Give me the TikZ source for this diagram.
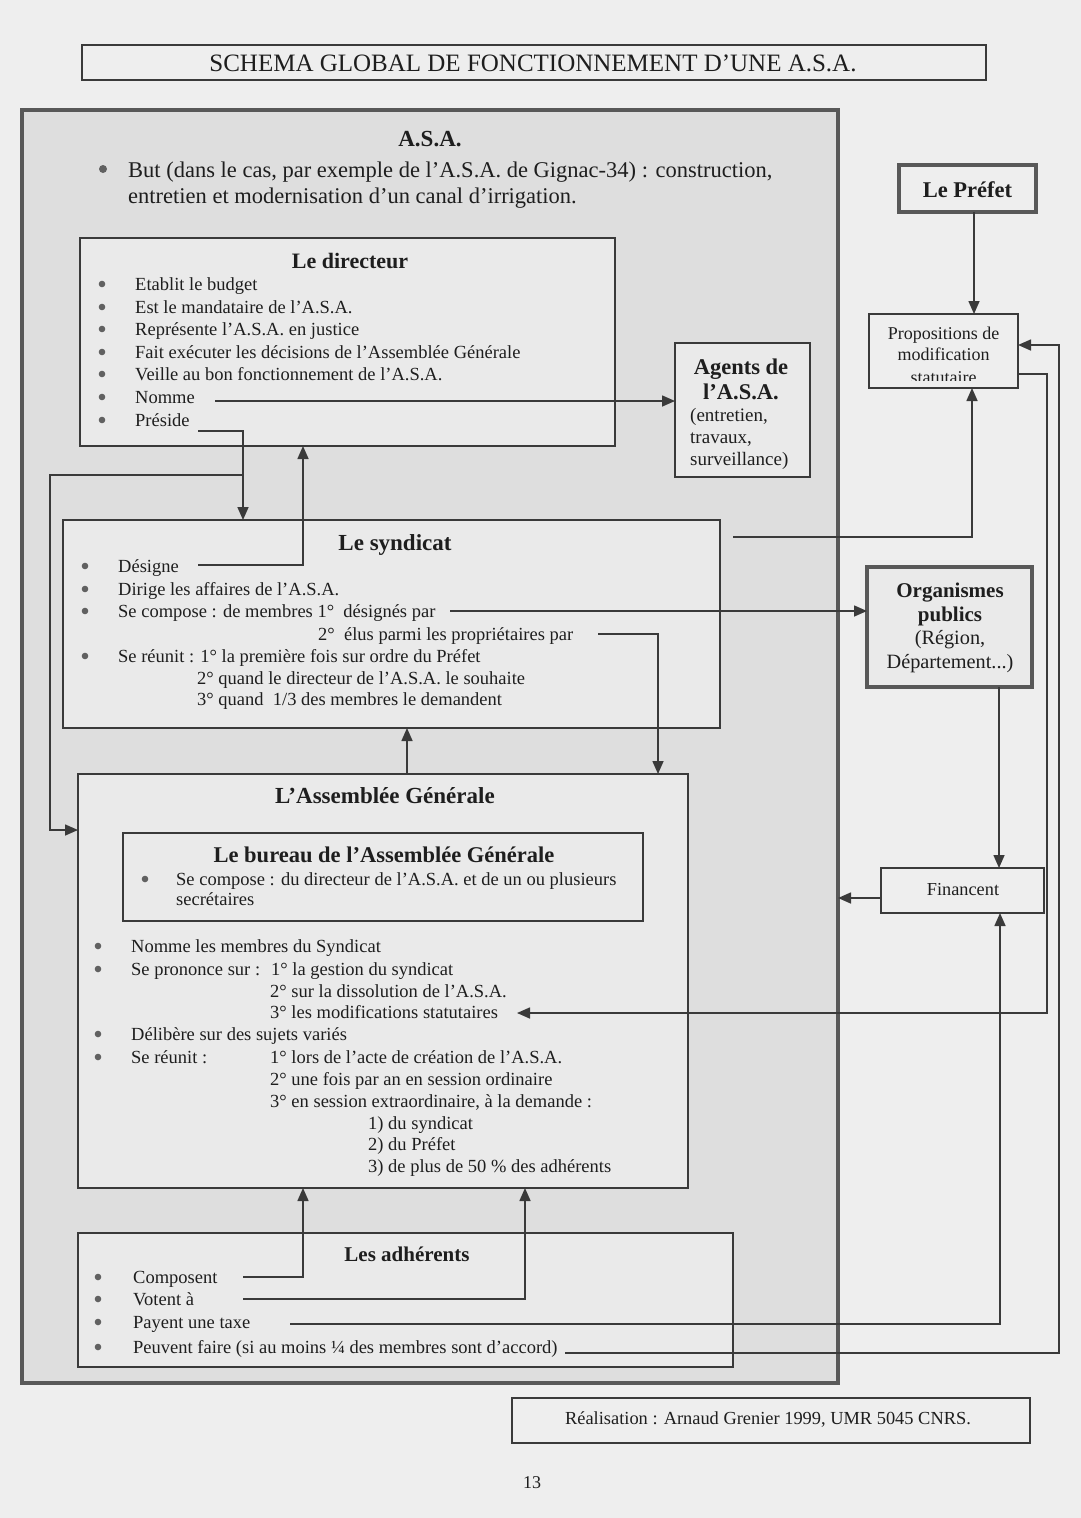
\documentclass[tikz,border=0pt]{standalone}
\usepackage{fontspec}
\setmainfont{Liberation Serif}
\usetikzlibrary{arrows.meta,calc}
\definecolor{lc}{HTML}{3A3A3A}
\definecolor{pagebg}{HTML}{EEEEEE}
\definecolor{asabg}{HTML}{DEDEDE}
\definecolor{boxbg}{HTML}{EAEAEA}
\definecolor{txtc}{HTML}{1E1E1E}
\begin{document}
\begin{tikzpicture}[x=1pt,y=-1pt,
  box/.style={draw=lc, line width=1.6pt, fill=boxbg, anchor=north west, inner sep=0pt, outer sep=0pt},
  tbox/.style={box, line width=4.5pt, draw=lc!85},
  ln/.style={draw=lc, line width=1.6pt},
  arr/.style={ln, -{Triangle[length=13pt,width=11pt]}},
  t/.style={anchor=base west, inner sep=0pt, text=txtc, font=\fontsize{18.5}{22}\selectfont},
  tc/.style={t, anchor=base},
  tb/.style={anchor=base, inner sep=0pt, text=txtc, font=\fontsize{22.5}{26}\selectfont\bfseries},
  bul/.style={fill=lc!80}
]
% page and bounding box
\fill[pagebg] (0,0) rectangle (1081,1518);
\useasboundingbox (0,0) rectangle (1081,1518);

% ---------------- boxes ----------------
\node[box, fill=pagebg, line width=2pt, minimum width=904pt, minimum height=35pt] (title) at (82,45) {};
\node[tbox, fill=asabg, minimum width=816pt, minimum height=1273pt] (asa) at (22,110) {};
\node[box, minimum width=535pt, minimum height=208pt] (dir) at (80,238) {};
\node[box, minimum width=135pt, minimum height=134pt] (agents) at (675,343) {};
\node[box, minimum width=657pt, minimum height=208pt] (synd) at (63,520) {};
\node[box, minimum width=610pt, minimum height=414pt] (ag) at (78,774) {};
\node[box, minimum width=520pt, minimum height=88pt] (bureau) at (123,833) {};
\node[box, minimum width=655pt, minimum height=134pt] (adh) at (78,1233) {};
\node[tbox, fill=pagebg, minimum width=137pt, minimum height=47pt] (prefet) at (899,165) {};
\node[box, fill=pagebg, minimum width=149pt, minimum height=74pt] (prop) at (869,314) {};
\node[tbox, fill=boxbg, minimum width=165pt, minimum height=120pt] (org) at (867,567) {};
\node[box, fill=pagebg, minimum width=163pt, minimum height=45pt] (fin) at (881,868) {};
\node[box, fill=pagebg, minimum width=518pt, minimum height=45pt] (real) at (512,1398) {};

% ---------------- connectors ----------------
% Nomme -> Agents
\coordinate (cNomme) at (215,401);
\draw[arr] (cNomme) -- (cNomme -| agents.west);
% Preside -> syndicat and AG
\coordinate (cPres) at (198,431);
\coordinate (kPres) at (243,431);
\coordinate (kJoin) at (243,475);
\coordinate (kLeft) at (50,475);
\coordinate (kAGl) at (50,830);
\draw[arr] (cPres) -- (kPres) -- (kPres |- synd.north);
\draw[arr] (kJoin) -- (kLeft) -- (kAGl) -- (kAGl -| ag.west);
% Designe -> directeur
\coordinate (cDes) at (198,565);
\coordinate (kDes) at (303,565);
\draw[arr] (cDes) -- (kDes) -- (kDes |- dir.south);
% designes par -> organismes
\coordinate (cComp) at (450,611);
\draw[arr] (cComp) -- (cComp -| org.west);
% elus par -> AG
\coordinate (cElus) at (598,634);
\coordinate (kElus) at (658,634);
\draw[arr] (cElus) -- (kElus) -- (kElus |- ag.north);
% syndicat -> propositions
\coordinate (cSP) at (733,537);
\coordinate (kSP) at (972,537);
\draw[arr] (cSP) -- (kSP) -- (kSP |- prop.south);
% AG -> syndicat
\coordinate (kAS) at (407,774);
\draw[arr] (kAS) -- (kAS |- synd.south);
% Prefet -> propositions
\coordinate (kPref) at (974,212);
\draw[arr] (kPref) -- (kPref |- prop.north);
% propositions -> modifications statutaires
\coordinate (kPM1) at (1047,374);
\coordinate (kPM2) at (1047,1013);
\coordinate (cMod) at (517,1013);
\draw[arr] (prop.east |- kPM1) -- (kPM1) -- (kPM2) -- (cMod);
% organismes -> financent
\coordinate (kOF) at (999,700);
\draw[arr] (org.south -| kOF) -- (fin.north -| kOF);
% financent -> ASA
\coordinate (kFA) at (900,898);
\draw[arr] (fin.west |- kFA) -- (asa.east |- kFA);
% adherents
\coordinate (cCompo) at (243,1277);
\coordinate (kCompo) at (303,1277);
\draw[arr] (cCompo) -- (kCompo) -- (kCompo |- ag.south);
\coordinate (cVot) at (243,1299);
\coordinate (kVot) at (525,1299);
\draw[arr] (cVot) -- (kVot) -- (kVot |- ag.south);
\coordinate (cPay) at (290,1324);
\coordinate (kPay) at (1000,1324);
\draw[arr] (cPay) -- (kPay) -- (kPay |- fin.south);
\coordinate (cPeu) at (565,1353);
\coordinate (kPeu1) at (1059,1353);
\coordinate (kPeu2) at (1059,345);
\draw[arr] (cPeu) -- (kPeu1) -- (kPeu2) -- (kPeu2 -| prop.east);

% ---------------- texts ----------------
\node[tc, font=\fontsize{25}{28}\selectfont] (ttl) at (533,71) {SCHEMA GLOBAL DE FONCTIONNEMENT D’UNE A.S.A.};

% ASA
\node[tb, font=\fontsize{23}{26}\selectfont\bfseries] (asat) at (430,146) {A.S.A.};
\fill[bul] (103,169) circle (4);
\node[t, font=\fontsize{22.5}{26}\selectfont] (but1) at (128,177) {But (dans le cas, par exemple de l’A.S.A. de Gignac-34) : construction,};
\node[t, font=\fontsize{22.5}{26}\selectfont] (but2) at (128,203) {entretien et modernisation d’un canal d’irrigation.};

% directeur
\node[tb, font=\fontsize{22}{26}\selectfont\bfseries] (dirt) at (350,268) {Le directeur};
\foreach \y in {284,307,329,352,374,397,420} \fill[bul] (102,\y) circle (3.3);
\node[t] (d1) at (135,290) {Etablit le budget};
\node[t] (d2) at (135,313) {Est le mandataire de l’A.S.A.};
\node[t] (d3) at (135,335) {Représente l’A.S.A. en justice};
\node[t] (d4) at (135,358) {Fait exécuter les décisions de l’Assemblée Générale};
\node[t] (d5) at (135,380) {Veille au bon fonctionnement de l’A.S.A.};
\node[t] (d6) at (135,403) {Nomme};
\node[t] (d7) at (135,426) {Préside};

% agents
\node[tb, font=\fontsize{22.5}{26}\selectfont\bfseries] (ag1) at (741,374) {Agents de};
\node[tb, font=\fontsize{22.5}{26}\selectfont\bfseries] (ag2) at (741,399) {l’A.S.A.};
\node[t, font=\fontsize{19}{22}\selectfont] (ag3) at (690,421) {(entretien,};
\node[t, font=\fontsize{19}{22}\selectfont] (ag4) at (690,443) {travaux,};
\node[t, font=\fontsize{19}{22}\selectfont] (ag5) at (690,465) {surveillance)};

% syndicat
\node[tb, font=\fontsize{23}{26}\selectfont\bfseries] (syt) at (395,550) {Le syndicat};
\foreach \y in {566,589,611,656} \fill[bul] (85,\y) circle (3.3);
\node[t] (s1) at (118,572) {Désigne};
\node[t] (s2) at (118,595) {Dirige les affaires de l’A.S.A.};
\node[t] (s3) at (118,617) {Se compose : de membres 1°\ \ désignés par};
\node[t] (s4) at (318,640) {2°\ \ élus parmi les propriétaires par};
\node[t] (s5) at (118,662) {Se réunit : 1° la première fois sur ordre du Préfet};
\node[t] (s6) at (197,684) {2° quand le directeur de l’A.S.A. le souhaite};
\node[t] (s7) at (197,705) {3° quand\ \ 1/3 des membres le demandent};

% assemblee generale
\node[tb, font=\fontsize{23}{26}\selectfont\bfseries] (agt) at (385,803) {L’Assemblée Générale};
\node[tb, font=\fontsize{22.5}{26}\selectfont\bfseries] (bt) at (384,862) {Le bureau de l’Assemblée Générale};
\fill[bul] (145,879) circle (3.3);
\node[t] (b1) at (176,885) {Se compose : du directeur de l’A.S.A. et de un ou plusieurs};
\node[t] (b2) at (176,905) {secrétaires};
\foreach \y in {946,969,1034,1057} \fill[bul] (98,\y) circle (3.3);
\node[t] (a1) at (131,952) {Nomme les membres du Syndicat};
\node[t] (a2) at (131,975) {Se prononce sur :};
\node[t] (a2b) at (271,975) {1° la gestion du syndicat};
\node[t] (a3) at (270,997) {2° sur la dissolution de l’A.S.A.};
\node[t] (a4) at (270,1018) {3° les modifications statutaires};
\node[t] (a5) at (131,1040) {Délibère sur des sujets variés};
\node[t] (a6) at (131,1063) {Se réunit :};
\node[t] (a6b) at (270,1063) {1° lors de l’acte de création de l’A.S.A.};
\node[t] (a7) at (270,1085) {2° une fois par an en session ordinaire};
\node[t] (a8) at (270,1107) {3° en session extraordinaire, à la demande :};
\node[t] (a9) at (368,1129) {1) du syndicat};
\node[t] (a10) at (368,1150) {2) du Préfet};
\node[t] (a11) at (368,1172) {3) de plus de 50 \% des adhérents};

% adherents
\node[tb, font=\fontsize{21}{24}\selectfont\bfseries] (adt) at (407,1261) {Les adhérents};
\foreach \y in {1277,1299,1322,1347} \fill[bul] (98,\y) circle (3.3);
\node[t] (h1) at (133,1283) {Composent};
\node[t] (h2) at (133,1305) {Votent à};
\node[t] (h3) at (133,1328) {Payent une taxe};
\node[t] (h4) at (133,1353) {Peuvent faire (si au moins ¼ des membres sont d’accord)};

% right side
\node[tb, font=\fontsize{22.5}{26}\selectfont\bfseries] (pt) at (967.5,197) {Le Préfet};
\node[tc, font=\fontsize{18}{22}\selectfont] (p1) at (943.5,339) {Propositions de};
\node[tc, font=\fontsize{18}{22}\selectfont] (p2) at (943.5,360) {modification};
\begin{scope}
\clip (prop.north west) rectangle ($(prop.south east)+(0,-8)$);
\node[tc, font=\fontsize{18}{22}\selectfont] (p3) at (943.5,383) {statutaire};
\end{scope}
\node[tb, font=\fontsize{21}{24}\selectfont\bfseries] (o1) at (950,597) {Organismes};
\node[tb, font=\fontsize{21}{24}\selectfont\bfseries] (o2) at (950,621) {publics};
\node[tc, font=\fontsize{20.3}{24}\selectfont] (o3) at (950,644) {(Région,};
\node[tc, font=\fontsize{20.3}{24}\selectfont] (o4) at (950,668) {Département...)};
\node[tc, font=\fontsize{18.3}{22}\selectfont] (ft) at (963,895) {Financent};
\node[tc, font=\fontsize{18.4}{22}\selectfont] (rt) at (768,1424) {Réalisation : Arnaud Grenier 1999, UMR 5045 CNRS.};
\node[tc, font=\fontsize{18}{22}\selectfont] (pg) at (532,1488) {13};
\end{tikzpicture}
\end{document}
